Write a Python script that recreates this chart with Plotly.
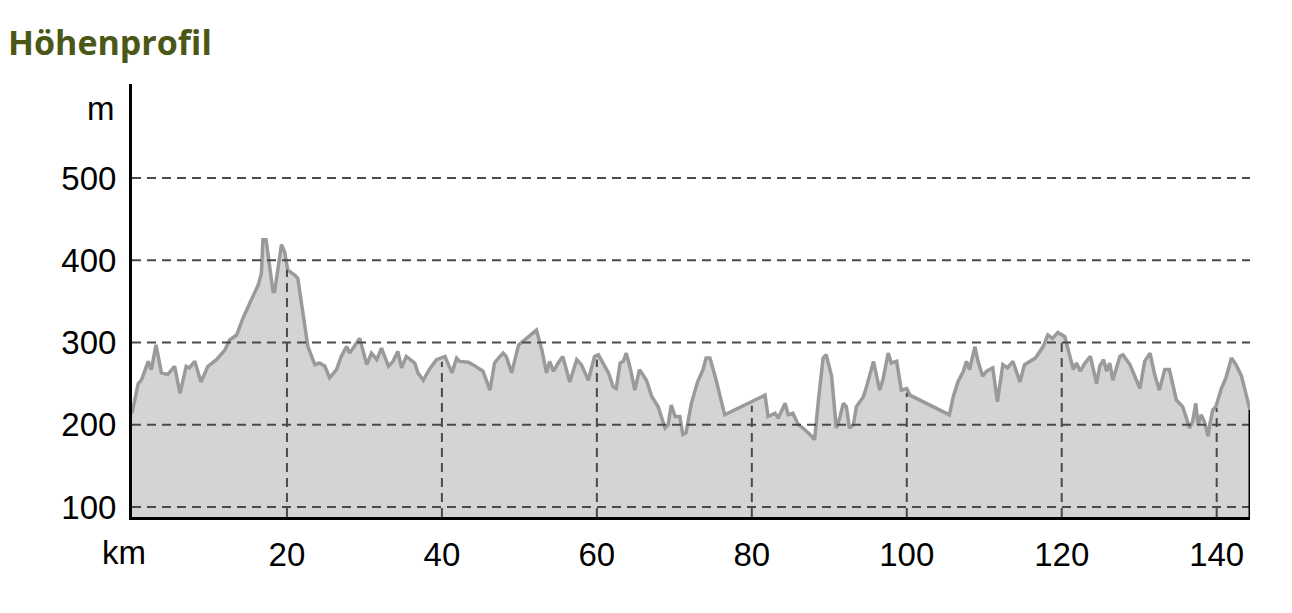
import numpy as np
import plotly.graph_objects as go

# Distance along the route (km) and elevation (m)
km = [0.0, 0.8, 1.2, 2.1, 2.5, 3.1, 3.8, 4.6, 5.5, 6.2, 7.0, 7.4, 8.1, 8.9, 9.8,
      10.9, 12.0, 12.6, 13.5, 14.3, 15.4, 16.3, 16.7, 16.9, 17.3, 18.2, 18.4, 19.3,
      19.7, 20.1, 21.0, 21.4, 22.7, 23.6, 24.2, 24.9, 25.5, 26.4, 27.0, 27.7, 28.1,
      28.9, 29.4, 30.3, 30.9, 31.6, 32.2, 33.1, 33.7, 34.3, 34.8, 35.4, 36.5, 36.9,
      37.6, 38.0, 38.5, 39.3, 40.4, 41.3, 41.9, 42.3, 43.4, 44.0, 44.7, 45.3, 46.2,
      46.8, 47.3, 47.9, 48.3, 49.0, 49.9, 52.2, 52.9, 53.5, 53.9, 54.4, 55.0, 55.6,
      56.5, 57.4, 58.0, 58.9, 59.7, 60.2, 60.8, 61.5, 62.1, 62.5, 63.0, 63.4, 63.8,
      64.3, 64.9, 65.5, 66.4, 67.1, 67.9, 68.8, 69.2, 69.6, 70.1, 70.7, 71.1, 71.5,
      72.2, 73.0, 73.7, 74.1, 74.6, 75.4, 76.5, 81.7, 82.1, 83.0, 83.4, 84.3, 84.7,
      85.3, 86.0, 86.6, 87.5, 88.1, 88.6, 89.2, 89.6, 90.3, 90.9, 91.4, 91.8, 92.2,
      92.6, 93.1, 93.5, 94.4, 94.8, 95.7, 96.5, 96.9, 97.6, 98.0, 98.7, 99.3, 100.0,
      100.4, 105.5, 106.0, 106.6, 107.3, 107.7, 108.1, 108.8, 109.2, 109.8, 110.3,
      111.1, 111.7, 112.4, 113.0, 113.7, 114.6, 115.2, 116.6, 117.6, 118.2, 118.8,
      119.5, 120.4, 120.8, 121.5, 121.9, 122.4, 123.0, 123.7, 124.5, 124.9, 125.4,
      125.8, 126.2, 126.6, 127.5, 127.9, 128.8, 130.1, 130.7, 131.4, 132.0, 132.6,
      133.3, 133.9, 134.8, 135.6, 136.1, 136.5, 136.9, 137.3, 137.6, 138.0, 138.4,
      138.9, 139.1, 139.5, 139.9, 140.6, 141.2, 141.9, 142.5, 143.2, 144.3]
elev = [214, 250, 254, 277, 267, 297, 263, 261, 271, 238, 271, 269, 277, 252, 271,
        279, 291, 303, 309, 329, 352, 370, 384, 425, 425, 362, 362, 419,
        410, 388, 382, 378, 295, 273, 275, 271, 257, 267, 283, 295, 287,
        297, 305, 273, 287, 279, 293, 271, 277, 289, 269, 283, 275, 263,
        254, 261, 269, 279, 283, 263, 281, 277, 276, 273, 269, 265, 242,
        275, 281, 287, 283, 263, 297, 315, 291, 263, 277, 265, 275, 283,
        252, 279, 273, 254, 283, 285, 275, 263, 246, 244, 275, 277, 287,
        269, 242, 267, 254, 234, 222, 196, 200, 224, 210, 210, 188, 190,
        226, 252, 267, 281, 281, 254, 212, 236, 210, 214, 208, 226, 212,
        214, 200, 196, 188, 182, 230, 281, 285, 259, 196, 210, 226, 222,
        196, 200, 222, 234, 246, 277, 242, 254, 287, 275, 277, 242, 244,
        236, 212, 234, 252, 265, 277, 267, 295, 277, 259, 265,
        269, 228, 273, 269, 277, 252, 273, 281, 295, 309, 305,
        312, 307, 291, 267, 275, 265, 275, 283, 250, 271, 279,
        265, 275, 254, 283, 285, 273, 244, 277, 287, 261, 242,
        267, 267, 230, 222, 208, 196, 204, 226, 200, 212, 204,
        186, 200, 218, 222, 244, 257, 281, 273, 259, 218]

y_ticks = [100, 200, 300, 400, 500]
x_ticks = [20, 40, 60, 80, 100, 120, 140]
title_text = "Höhenprofil"
x_unit = "km"
y_unit = "m"

y_min, y_max = 87.8, 614.2
x_min, x_max = 0, 144.3

grid_color = "#4a4a4a"
label_font = dict(family="Liberation Sans, Arial, sans-serif", size=33, color="#000000")

# page body adds an 8px margin, so the figure is drawn slightly smaller
W, H = 1276, 597

fig = go.Figure()
fig.add_trace(go.Scatter(
    x=km, y=elev, mode="lines", fill="tozeroy",
    fillcolor="#d4d4d4",
    line=dict(color="#9a9a9a", width=3.5),
    hoverinfo="x+y", showlegend=False,
))

shapes = []
# horizontal dashed grid lines (drawn over the filled profile)
for v in y_ticks:
    shapes.append(dict(type="line", xref="x domain", yref="y", x0=0, x1=1, y0=v, y1=v,
                       line=dict(color=grid_color, width=2, dash="9px,6px"), layer="above"))
# vertical dashed grid lines, only below the profile
for k in x_ticks:
    top = float(np.interp(k, km, elev)) - 5
    shapes.append(dict(type="line", xref="x", yref="y", x0=k, x1=k, y0=y_min, y1=top,
                       line=dict(color=grid_color, width=2, dash="9px,6px"), layer="above"))
# right edge of the profile
shapes.append(dict(type="line", xref="x", yref="y", x0=km[-1], x1=km[-1], y0=y_min, y1=elev[-1],
                   line=dict(color="#000000", width=3), layer="above"))

fig.update_layout(
    width=W, height=H,
    margin=dict(l=124, r=34, t=76, b=88),
    paper_bgcolor="#ffffff", plot_bgcolor="#ffffff",
    shapes=shapes,
    title=dict(text=f"<b>{title_text}</b>", x=0, xanchor="left", xref="container",
               y=1 - 35 / H, yanchor="middle", yref="container",
               font=dict(family="Open Sans, sans-serif", size=34, color="#4a5716")),
    xaxis=dict(range=[x_min, x_max], tickvals=x_ticks, ticktext=[str(t) for t in x_ticks],
               showgrid=False, zeroline=False, showline=True, linecolor="#000000", linewidth=3,
               ticks="outside", ticklen=6, tickcolor="rgba(0,0,0,0)", tickfont=label_font),
    yaxis=dict(range=[y_min, y_max], tickvals=y_ticks, ticktext=[str(t) for t in y_ticks],
               showgrid=False, zeroline=False, showline=True, linecolor="#000000", linewidth=3,
               ticks="outside", ticklen=6, tickcolor="rgba(0,0,0,0)", tickfont=label_font),
    annotations=[
        dict(text=y_unit, xref="paper", yref="y", x=0, y=585, xanchor="right", yanchor="middle",
             xshift=-15, showarrow=False, font=label_font),
        dict(text=x_unit, xref="paper", yref="paper", x=-8.5 / 1118, y=0,
             xanchor="center", yanchor="top", yshift=-15, showarrow=False, font=label_font),
    ],
)

fig.write_html("out.html")
